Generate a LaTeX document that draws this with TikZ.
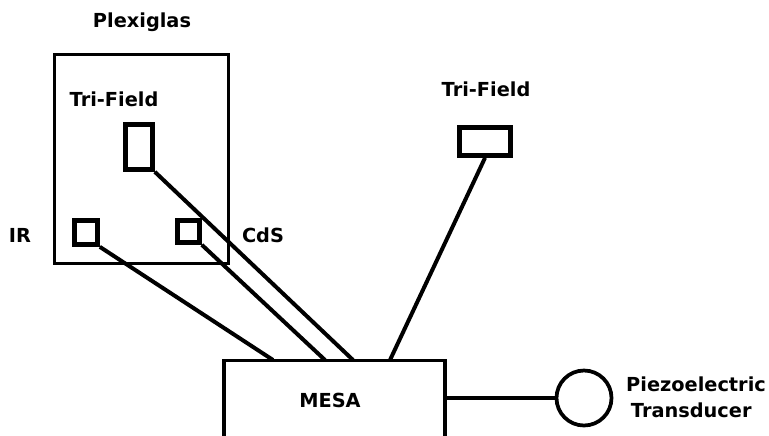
\documentclass[tikz,border=0pt]{standalone}
\usepackage{fontspec}
\setmainfont{DejaVu Sans}
\begin{document}
\begin{tikzpicture}[x=0.03cm,y=-0.03cm,
  lbl/.style={font=\fontsize{16.5}{23}\selectfont\bfseries, inner sep=0pt, anchor=base},
  sensor/.style={draw, line width=4pt, inner sep=0pt},
  bigbox/.style={draw, line width=2.8pt, inner sep=0pt},
  wire/.style={line width=3.4pt},
  thinwire/.style={line width=2.6pt}]
\useasboundingbox (0,0) rectangle (769,435);
\fill[white] (0,0) rectangle (769,435);
\clip (0,0) rectangle (769,435);
% boxes
\node[bigbox, minimum width=5.22cm, minimum height=6.27cm] (plexi) at (141.5,159) {};
\node[sensor, minimum width=0.69cm, minimum height=0.72cm] (ir) at (86,232.5) {};
\node[sensor, minimum width=0.81cm, minimum height=1.35cm] (tfl) at (139,147) {};
\node[sensor, minimum width=0.66cm, minimum height=0.66cm] (cds) at (188.5,231.5) {};
\node[sensor, minimum width=1.53cm, minimum height=0.84cm] (tfr) at (485,141.5) {};
\node[bigbox, minimum width=6.63cm, minimum height=3.57cm] (mesa) at (334.5,420) {};
\node[draw, circle, line width=3.2pt, inner sep=0pt, minimum size=1.65cm] (pz) at (584,398) {};
% labels
\node[lbl] (plexilbl) at (142,27) {Plexiglas};
\node[lbl] (tfllbl) at (114,106) {Tri-Field};
\node[lbl] (irlbl) at (20,242) {IR};
\node[lbl] (cdslbl) at (263,242) {CdS};
\node[lbl] (tfrlbl) at (486,96) {Tri-Field};
\node[lbl] (mesalbl) at (330,407) {MESA};
\node[lbl, anchor=west, align=left] (pzlbl) at (626,397) {Piezoelectric\\[-1pt]\hspace*{4pt}Transducer};
% connection points on MESA
\coordinate (m1) at (273,360);
\coordinate (m2) at (325,360);
\coordinate (m3) at (353,360);
\coordinate (m4) at (390,360);
% wires
\draw[wire] (ir.south east) -- (m1);
\draw[wire] (cds.south east) -- (m2);
\draw[wire] (tfl.south east) -- (m3);
\draw[wire] (tfr.south) -- (m4);
\draw[thinwire] (pz.west) -- (pz.west -| mesa.east);
\end{tikzpicture}
\end{document}
